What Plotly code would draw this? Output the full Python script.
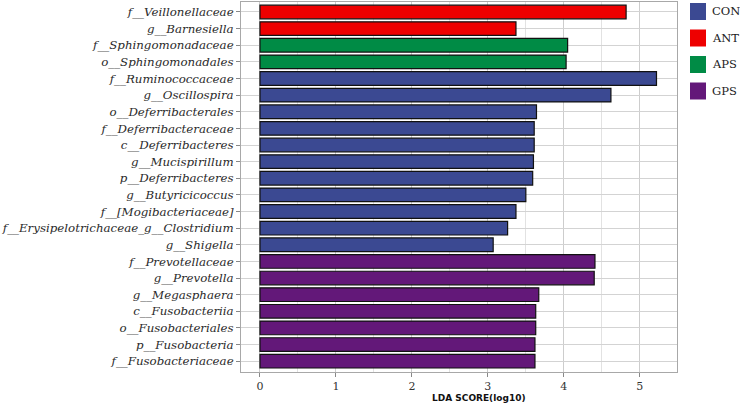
import plotly.graph_objects as go

taxa = ["f__Veillonellaceae", "g__Barnesiella", "f__Sphingomonadaceae", "o__Sphingomonadales",
        "f__Ruminococcaceae", "g__Oscillospira", "o__Deferribacterales", "f__Deferribacteraceae",
        "c__Deferribacteres", "g__Mucispirillum", "p__Deferribacteres", "g__Butyricicoccus",
        "f__[Mogibacteriaceae]", "f__Erysipelotrichaceae_g__Clostridium", "g__Shigella",
        "f__Prevotellaceae", "g__Prevotella", "g__Megasphaera", "c__Fusobacteriia",
        "o__Fusobacteriales", "p__Fusobacteria", "f__Fusobacteriaceae"]
lda = [4.82, 3.37, 4.05, 4.03, 5.22, 4.62, 3.64, 3.61, 3.61, 3.60, 3.59, 3.50,
       3.37, 3.26, 3.07, 4.41, 4.40, 3.67, 3.63, 3.63, 3.62, 3.62]
group = ["ANT", "ANT", "APS", "APS", "CON", "CON", "CON", "CON", "CON", "CON", "CON", "CON",
         "CON", "CON", "CON", "GPS", "GPS", "GPS", "GPS", "GPS", "GPS", "GPS"]
groups = ["CON", "ANT", "APS", "GPS"]
colors = {"CON": "#3B4992", "ANT": "#EE0000", "APS": "#008B45", "GPS": "#631879"}

fig = go.Figure()
for g in groups:
    ys = [t for t, gg in zip(taxa, group) if gg == g]
    xs = [v for v, gg in zip(lda, group) if gg == g]
    fig.add_trace(go.Bar(x=xs, y=ys, orientation="h", name=g, showlegend=False,
                         marker=dict(color=colors[g], line=dict(color="#111111", width=1.2))))

W, H = 740, 407
L, Rr, Tt, Bb = 241, 677, 2, 372          # panel edges in pixels
ml, mr, mt, mb = L, W - Rr, Tt, H - Bb
pw, ph = W - ml - mr, H - mt - mb
def px(x):
    return (x - ml) / pw
def py(y):
    return 1 - (y - mt) / ph

for i, g in enumerate(groups):
    y0 = 3 + i * 26.5
    fig.add_shape(type="rect", xref="paper", yref="paper", x0=px(690), x1=px(706),
                  y0=py(y0 + 17), y1=py(y0), fillcolor=colors[g], line=dict(width=0))
    fig.add_annotation(xref="paper", yref="paper", x=px(710), y=py(y0 + 8.5), text=g,
                       showarrow=False, xanchor="left", yanchor="middle",
                       font=dict(family="DejaVu Serif", size=11.5, color="#222222"))

fig.add_annotation(xref="paper", yref="paper", x=px(479), y=py(398), text="<b>LDA SCORE(log10)</b>",
                   showarrow=False, xanchor="center", yanchor="middle",
                   font=dict(family="DejaVu Sans", size=9, color="#111111"))

fig.update_layout(
    width=W, height=H, margin=dict(l=ml, r=mr, t=mt, b=mb, autoexpand=False),
    paper_bgcolor="white", plot_bgcolor="white", bargap=0.18, barmode="overlay",
)
fig.update_xaxes(range=[-0.25, 5.49], tickvals=[0, 1, 2, 3, 4, 5], showgrid=True,
                 gridcolor="#CDCDCD", gridwidth=1,
                 minor=dict(dtick=0.5, showgrid=True, gridcolor="#E2E2E2", gridwidth=1),
                 showline=True, linecolor="#A8A8A8", linewidth=1, mirror=True,
                 ticks="outside", ticklen=4, tickcolor="#888888", zeroline=False,
                 tickfont=dict(family="DejaVu Serif", size=11, color="#333333"))
fig.update_yaxes(type="category", categoryorder="array", categoryarray=taxa,
                 range=[21.65, -0.6], showgrid=True, gridcolor="#D3D3D3",
                 showline=True, linecolor="#A8A8A8", linewidth=1, mirror=True,
                 ticks="outside", ticklen=4, tickcolor="#888888",
                 tickfont=dict(family="DejaVu Serif", size=11.8, color="#2A2A2A"))
fig.update_yaxes(tickvals=taxa, ticktext=["<i>" + t + "</i>" for t in taxa])

fig.write_html("out.html", config={"displayModeBar": False},
               post_script="document.body.style.margin='0';")
